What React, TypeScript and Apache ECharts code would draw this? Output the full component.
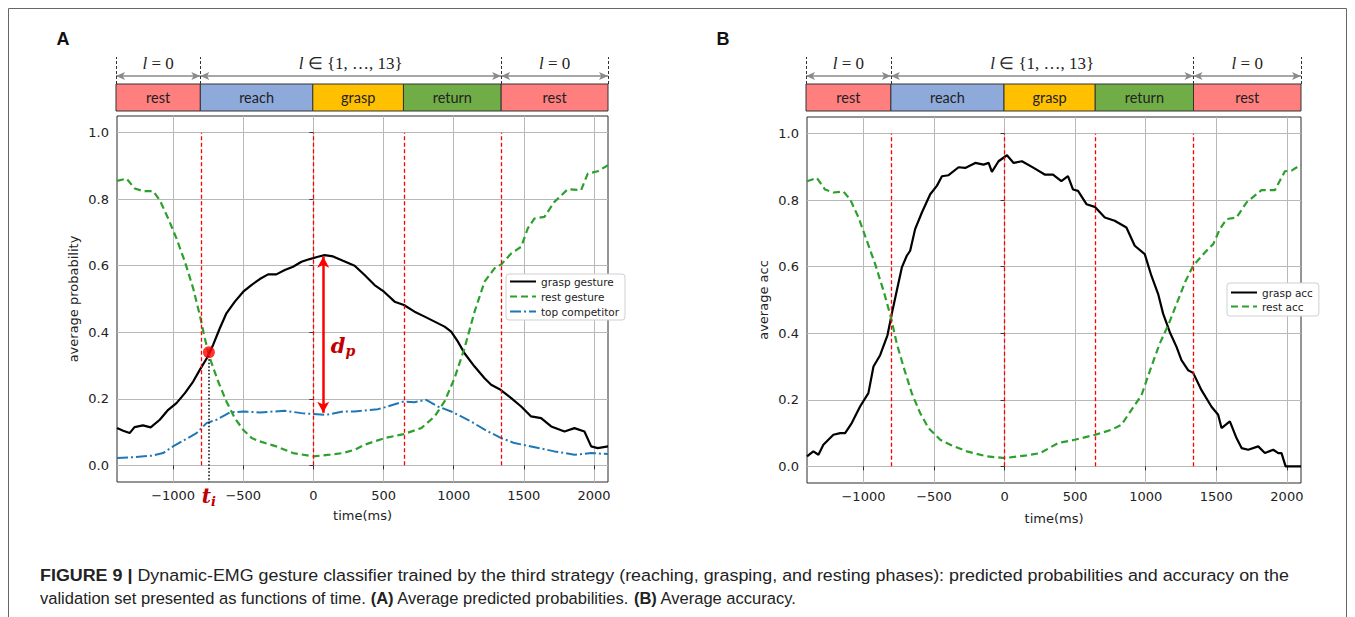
import React, { useEffect, useRef } from "react";
import * as echarts from "echarts";

// ---------- data ----------
const X_MIN = -1400;
const X_MAX = 2100;
const Y_MIN = -0.05;
const Y_MAX = 1.05;
const xTicks = [-1000, -500, 0, 500, 1000, 1500, 2000];
const yTicks = [0, 0.2, 0.4, 0.6, 0.8, 1.0];

const phaseNames = ["rest", "reach", "grasp", "return", "rest"];
const phaseColors = ["#ff7f7f", "#8eaadb", "#ffc000", "#70ad47", "#ff7f7f"];
const phaseBounds = [-1400, -800, 0, 645, 1340, 2100];
const phaseBoundaryTimes = [-800, 0, 645, 1340];
const bracketEdges = [-1400, -800, 1340, 2100];
const bracketSpans = [[-1400, -800], [-800, 1340], [1340, 2100]];
const bracketLabels = ["l = 0", "l \u2208 {1, \u2026, 13}", "l = 0"];

const graspGestureA = [
  [-1400, 0.112], [-1356, 0.104], [-1310, 0.097], [-1275, 0.115], [-1215, 0.12], [-1160, 0.114],
  [-1095, 0.137], [-1035, 0.167], [-976, 0.187], [-916, 0.217], [-857, 0.252], [-810, 0.287],
  [-760, 0.322], [-715, 0.362], [-667, 0.412], [-620, 0.457], [-560, 0.492], [-500, 0.522],
  [-442, 0.542], [-382, 0.56], [-323, 0.574], [-264, 0.574], [-204, 0.587], [-145, 0.597],
  [-85, 0.612], [-26, 0.62], [33, 0.627], [80, 0.632], [140, 0.628], [211, 0.615], [294, 0.6],
  [365, 0.572], [436, 0.542], [503, 0.522], [579, 0.492], [645, 0.482], [721, 0.462],
  [793, 0.447], [864, 0.432], [935, 0.417], [982, 0.402], [1030, 0.372], [1077, 0.337],
  [1149, 0.297], [1220, 0.262], [1267, 0.242], [1334, 0.227], [1410, 0.202], [1481, 0.177],
  [1552, 0.147], [1623, 0.142], [1695, 0.117], [1790, 0.102], [1861, 0.112], [1932, 0.102],
  [1980, 0.057], [2027, 0.052], [2100, 0.057],
];

const restGestureA = [
  [-1400, 0.855], [-1332, 0.862], [-1273, 0.832], [-1213, 0.824], [-1142, 0.824], [-1095, 0.797],
  [-1035, 0.742], [-976, 0.682], [-916, 0.612], [-857, 0.532], [-810, 0.452], [-774, 0.382],
  [-738, 0.322], [-679, 0.252], [-620, 0.192], [-560, 0.142], [-501, 0.107], [-440, 0.082],
  [-382, 0.072], [-264, 0.057], [-145, 0.037], [0, 0.027], [116, 0.032], [211, 0.037],
  [294, 0.047], [365, 0.062], [436, 0.072], [508, 0.082], [645, 0.094], [769, 0.112],
  [864, 0.147], [935, 0.192], [1006, 0.262], [1077, 0.352], [1149, 0.462], [1220, 0.552],
  [1291, 0.592], [1339, 0.604], [1410, 0.637], [1481, 0.657], [1528, 0.712], [1576, 0.742],
  [1647, 0.747], [1718, 0.792], [1813, 0.83], [1908, 0.827], [1956, 0.877], [2027, 0.884],
  [2100, 0.902],
];

const topCompetitorA = [
  [-1400, 0.022], [-1273, 0.025], [-1154, 0.029], [-1071, 0.037], [-1000, 0.057], [-916, 0.077],
  [-833, 0.097], [-762, 0.127], [-691, 0.137], [-596, 0.159], [-501, 0.162], [-382, 0.159],
  [-204, 0.164], [-85, 0.157], [0, 0.154], [93, 0.152], [211, 0.162], [294, 0.162],
  [460, 0.169], [531, 0.177], [645, 0.192], [721, 0.19], [804, 0.197], [887, 0.177],
  [982, 0.162], [1101, 0.137], [1244, 0.102], [1339, 0.082], [1433, 0.067], [1552, 0.057],
  [1718, 0.042], [1861, 0.032], [1980, 0.037], [2100, 0.034],
];

const graspAccB = [
  [-1400, 0.03], [-1355, 0.045], [-1319, 0.035], [-1284, 0.065], [-1213, 0.095], [-1165, 0.1],
  [-1130, 0.1], [-1083, 0.13], [-1024, 0.18], [-965, 0.22], [-929, 0.3], [-882, 0.334],
  [-830, 0.394], [-799, 0.459], [-764, 0.528], [-728, 0.598], [-693, 0.633], [-669, 0.648],
  [-634, 0.713], [-586, 0.763], [-527, 0.818], [-480, 0.843], [-444, 0.872], [-397, 0.875],
  [-326, 0.899], [-279, 0.897], [-208, 0.912], [-149, 0.907], [-113, 0.912], [-90, 0.885],
  [-43, 0.917], [17, 0.935], [64, 0.912], [123, 0.917], [206, 0.897], [284, 0.877],
  [343, 0.877], [402, 0.857], [449, 0.872], [485, 0.832], [520, 0.828], [580, 0.788],
  [639, 0.78], [710, 0.748], [780, 0.738], [863, 0.718], [922, 0.663], [993, 0.638],
  [1040, 0.573], [1088, 0.518], [1123, 0.459], [1170, 0.404], [1218, 0.359], [1253, 0.319],
  [1300, 0.289], [1336, 0.281], [1395, 0.229], [1466, 0.179], [1513, 0.155], [1537, 0.115],
  [1596, 0.135], [1643, 0.085], [1679, 0.055], [1726, 0.05], [1797, 0.06], [1844, 0.04],
  [1903, 0.05], [1939, 0.04], [1962, 0.04], [1991, 0.0], [2100, 0.0],
];

const restAccB = [
  [-1400, 0.857], [-1331, 0.867], [-1272, 0.832], [-1213, 0.823], [-1142, 0.826], [-1095, 0.803],
  [-1035, 0.748], [-976, 0.678], [-917, 0.608], [-858, 0.528], [-806, 0.449], [-764, 0.369],
  [-716, 0.299], [-657, 0.219], [-598, 0.16], [-539, 0.115], [-456, 0.08], [-385, 0.065],
  [-267, 0.045], [-125, 0.03], [0, 0.025], [158, 0.033], [253, 0.04], [379, 0.07],
  [497, 0.08], [643, 0.095], [757, 0.11], [828, 0.125], [899, 0.17], [970, 0.214],
  [1040, 0.3], [1100, 0.37], [1160, 0.425], [1220, 0.49], [1280, 0.555], [1336, 0.603],
  [1419, 0.643], [1478, 0.668], [1525, 0.713], [1572, 0.743], [1643, 0.748], [1714, 0.793],
  [1820, 0.83], [1915, 0.83], [1986, 0.887], [2033, 0.889], [2100, 0.907],
];

const tiPoint = [-745, 0.34];
const tiLineEnd = -0.0499;
const dpTime = 70;
const dpTop = 0.627;
const dpBottom = 0.158;
const dpLabelY = 0.36;

// ---------- styling helpers ----------
const SANS = "DejaVu Sans";
const SERIF = "Liberation Serif";
const CAPTION_FONT = '"Liberation Sans Narrow", "Liberation Sans", Arial, sans-serif';
const BOX_Y = 0.5;
const ARROW_Y = 0.648;

const fmtX = (v: number) => (v < 0 ? "\u2212" + Math.abs(v) : String(v));
const fmtY = (v: number) => v.toFixed(1);

function mainX(gridIndex: number, nameGap: number) {
  return {
    gridIndex, type: "value", min: X_MIN, max: X_MAX,
    name: "time(ms)", nameLocation: "middle", nameGap,
    nameTextStyle: { fontSize: 13, color: "#222", fontFamily: SANS },
    axisLine: { show: false },
    axisTick: { show: true, length: 4, customValues: xTicks, lineStyle: { color: "#333" } },
    axisLabel: { customValues: xTicks, formatter: fmtX, fontSize: 13, color: "#222", fontFamily: SANS, margin: 7 },
    splitLine: { show: true, lineStyle: { color: "#b8b8b8", width: 1 } },
  };
}
function mainY(gridIndex: number, name: string) {
  return {
    gridIndex, type: "value", min: Y_MIN, max: Y_MAX,
    name, nameLocation: "middle", nameGap: 37,
    nameTextStyle: { fontSize: 13, color: "#222", fontFamily: SANS },
    axisLine: { show: false },
    axisTick: { show: true, length: 4, customValues: yTicks, lineStyle: { color: "#333" } },
    axisLabel: { customValues: yTicks, formatter: fmtY, fontSize: 13, color: "#222", fontFamily: SANS, margin: 8 },
    splitLine: { show: true, lineStyle: { color: "#b8b8b8", width: 1 } },
  };
}
const barX = (gridIndex: number) => ({ gridIndex, type: "value", min: X_MIN, max: X_MAX, show: false });
const barY = (gridIndex: number) => ({ gridIndex, type: "value", min: 0, max: 1, show: false });

const phaseData = phaseNames.map((_, i) => [phaseBounds[i], phaseBounds[i + 1], i]);

function phaseSeries(axisIndex: number) {
  return {
    type: "custom", xAxisIndex: axisIndex, yAxisIndex: axisIndex, data: phaseData,
    encode: { x: [0, 1] }, clip: false, silent: true, z: 3,
    renderItem: (_p: any, api: any) => {
      const s = api.coord([api.value(0), BOX_Y]);
      const e = api.coord([api.value(1), 0]);
      const idx = api.value(2);
      return {
        type: "group",
        children: [
          { type: "rect", shape: { x: s[0], y: s[1], width: e[0] - s[0], height: e[1] - s[1] },
            style: { fill: phaseColors[idx], stroke: "#333", lineWidth: 1 } },
          { type: "text", style: { text: phaseNames[idx], x: (s[0] + e[0]) / 2, y: (s[1] + e[1]) / 2,
            align: "center", verticalAlign: "middle", fill: "#222", fontSize: 14.5, fontFamily: "Lato" } },
        ],
      };
    },
  };
}
function bracketSeries(axisIndex: number) {
  return {
    type: "line", xAxisIndex: axisIndex, yAxisIndex: axisIndex, data: [], silent: true,
    markLine: {
      silent: true, animation: false, symbol: ["arrow", "arrow"], symbolSize: [6, 9],
      lineStyle: { color: "#8a8a8a", width: 1.5, type: "solid" },
      label: {
        show: true, position: "insideMiddleTop", distance: 4,
        formatter: (p: any) => String(p.name).replace(/^l/, "{i|l}"),
        color: "#222", fontFamily: SERIF, fontSize: 17,
        rich: { i: { fontStyle: "italic", fontFamily: SERIF, fontSize: 17, color: "#222" } },
      },
      data: bracketSpans.map((s, i) => [
        { coord: [s[0], ARROW_Y], name: bracketLabels[i] },
        { coord: [s[1], ARROW_Y] },
      ]),
    },
  };
}
function edgeSeries(axisIndex: number) {
  return {
    type: "line", xAxisIndex: axisIndex, yAxisIndex: axisIndex, data: [], silent: true, z: 1,
    markLine: {
      silent: true, animation: false, symbol: "none",
      lineStyle: { color: "#333", width: 1, type: [3, 2] },
      label: { show: false },
      data: bracketEdges.map((x) => [{ coord: [x, BOX_Y] }, { coord: [x, 1] }]),
    },
  };
}
function boundarySeries(axisIndex: number) {
  return {
    type: "line", xAxisIndex: axisIndex, yAxisIndex: axisIndex, data: [], silent: true, z: 2,
    markLine: {
      silent: true, animation: false, symbol: "none",
      lineStyle: { color: "#ff0000", width: 1.3, type: [4, 2.5] },
      label: { show: false },
      data: phaseBoundaryTimes.map((x) => [{ coord: [x, 0] }, { coord: [x, 1] }]),
    },
  };
}
function curve(name: string, axisIndex: number, data: number[][], color: string, type: any, width: number) {
  return {
    name, type: "line", xAxisIndex: axisIndex, yAxisIndex: axisIndex, data, symbol: "none",
    lineStyle: { color, width, type }, itemStyle: { color }, z: 4,
  };
}

const legendBase = {
  orient: "vertical", itemWidth: 26, itemHeight: 12, selectedMode: false,
  itemStyle: { opacity: 0, borderWidth: 0 },
  textStyle: { fontSize: 10.5, color: "#222", fontFamily: SANS },
  backgroundColor: "#ffffff", borderColor: "#d0d0d0", borderWidth: 1, borderRadius: 3,
};

function measure(text: string, font: string) {
  const ctx = document.createElement("canvas").getContext("2d");
  if (!ctx) return text.length * 8;
  ctx.font = font;
  return ctx.measureText(text).width;
}

const cap1Bold = "FIGURE 9 |";
const cap1Rest = " Dynamic-EMG gesture classifier trained by the third strategy (reaching, grasping, and resting phases): predicted probabilities and accuracy on the";
const cap2Parts = [
  ["n", "validation set presented as functions of time. "],
  ["b", "(A)"],
  ["n", " Average predicted probabilities. "],
  ["b", "(B)"],
  ["n", " Average accuracy."],
];

export default function App() {
  const ref = useRef<HTMLDivElement>(null);
  useEffect(() => {
    if (!ref.current) return;
    const chart = echarts.init(ref.current, null, { renderer: "svg" });
    const fs = 17;
    const nf = `${fs}px ${CAPTION_FONT}`;
    const bf = `bold ${fs}px ${CAPTION_FONT}`;
    const w1 = measure(cap1Bold, bf) + measure(cap1Rest, nf);
    const w2 = cap2Parts.reduce((a, [k, t]) => a + measure(t, k === "b" ? bf : nf), 0);
    const s1 = 1250 / w1;
    const s2 = 757 / w2;
    const captionRich = {
      b: { fontWeight: "bold", fontSize: fs, fontFamily: CAPTION_FONT, fill: "#222" },
      n: { fontSize: fs, fontFamily: CAPTION_FONT, fill: "#222" },
    };

    const option: any = {
      animation: false,
      backgroundColor: "#ffffff",
      grid: [
        { left: 116, top: 57, width: 492, height: 54, show: false },
        { left: 117, top: 116, width: 491, height: 366, show: true, borderColor: "#2a2a2a", borderWidth: 1 },
        { left: 806, top: 57, width: 495, height: 54, show: false },
        { left: 807, top: 117, width: 494, height: 366, show: true, borderColor: "#2a2a2a", borderWidth: 1 },
      ],
      xAxis: [barX(0), mainX(1, 27), barX(2), mainX(3, 29)],
      yAxis: [barY(0), mainY(1, "average probability"), barY(2), mainY(3, "average acc")],
      legend: [
        { ...legendBase, data: ["grasp gesture", "rest gesture", "top competitor"], left: 506, top: 274, itemGap: 4, padding: [2, 6, 3, 3] },
        { ...legendBase, data: ["grasp acc", "rest acc"], left: 1227, top: 283, itemGap: 3, padding: [4, 6, 4, 3] },
      ],
      series: [
        phaseSeries(0), bracketSeries(0), edgeSeries(0),
        phaseSeries(2), bracketSeries(2), edgeSeries(2),
        boundarySeries(1), boundarySeries(3),
        curve("grasp gesture", 1, graspGestureA, "#000000", "solid", 2.2),
        curve("rest gesture", 1, restGestureA, "#2ca02c", [7, 4], 2.2),
        curve("top competitor", 1, topCompetitorA, "#1f77b4", [11, 3, 2, 3], 2),
        curve("grasp acc", 3, graspAccB, "#000000", "solid", 2.2),
        curve("rest acc", 3, restAccB, "#2ca02c", [7, 4], 2.2),
        {
          type: "line", xAxisIndex: 1, yAxisIndex: 1, data: [], silent: true, z: 5, clip: false,
          markLine: {
            silent: true, animation: false, symbol: "none",
            lineStyle: { color: "#000", width: 1.5, type: [1.5, 2] },
            label: {
              show: true, position: "end", distance: 3, formatter: "{t|t}{s|i}",
              rich: {
                t: { fontSize: 20, fontStyle: "italic", fontWeight: "bold", fontFamily: "DejaVu Serif", color: "#c00000" },
                s: { fontSize: 13, fontStyle: "italic", fontWeight: "bold", fontFamily: "DejaVu Serif", color: "#c00000", padding: [10, 0, 0, 0] },
              },
            },
            data: [[{ coord: [tiPoint[0], tiPoint[1]] }, { coord: [tiPoint[0], tiLineEnd] }]],
          },
        },
        {
          type: "scatter", xAxisIndex: 1, yAxisIndex: 1, data: [tiPoint], symbolSize: 12,
          itemStyle: { color: "#ff0000" }, z: 6, silent: true,
        },
        {
          type: "line", xAxisIndex: 1, yAxisIndex: 1, data: [], silent: true, z: 6, clip: false,
          markLine: {
            silent: true, animation: false, symbol: ["arrow", "arrow"], symbolSize: [9, 11],
            lineStyle: { color: "#ff0000", width: 2.5, type: "solid" },
            label: { show: false },
            data: [[{ coord: [dpTime, dpTop] }, { coord: [dpTime, dpBottom] }]],
          },
          markPoint: {
            silent: true, animation: false, symbol: "rect", symbolSize: 1,
            itemStyle: { color: "transparent" },
            label: {
              show: true, position: "right", distance: 7, formatter: "{d|d}{p|p}",
              rich: {
                d: { fontSize: 21, fontStyle: "italic", fontWeight: "bold", fontFamily: "DejaVu Serif", color: "#c00000" },
                p: { fontSize: 14, fontStyle: "italic", fontWeight: "bold", fontFamily: "DejaVu Serif", color: "#c00000", padding: [10, 0, 0, 0] },
              },
            },
            data: [{ coord: [dpTime, dpLabelY] }],
          },
        },
      ],
      graphic: [
        { type: "polyline", silent: true, shape: { points: [[8.5, 617], [8.5, 8.5], [1346.5, 8.5], [1346.5, 617]] },
          style: { stroke: "#666", lineWidth: 1, fill: null } },
        { type: "text", x: 63, y: 39, silent: true,
          style: { text: "A", fontSize: 18, fontWeight: "bold", fontFamily: "Liberation Sans", fill: "#111", align: "center", verticalAlign: "middle" } },
        { type: "text", x: 723, y: 39, silent: true,
          style: { text: "B", fontSize: 18, fontWeight: "bold", fontFamily: "Liberation Sans", fill: "#111", align: "center", verticalAlign: "middle" } },
        { type: "text", x: 40, y: 575, scaleX: s1, silent: true,
          style: { text: `{b|${cap1Bold}}{n|${cap1Rest}}`, rich: captionRich, fontSize: fs, fontFamily: CAPTION_FONT, fill: "#222", verticalAlign: "middle" } },
        { type: "text", x: 40, y: 598, scaleX: s2, silent: true,
          style: { text: cap2Parts.map(([k, t]) => `{${k}|${t}}`).join(""), rich: captionRich, fontSize: fs, fontFamily: CAPTION_FONT, fill: "#222", verticalAlign: "middle" } },
      ],
    };
    chart.setOption(option);
    return () => chart.dispose();
  }, []);
  return (
    <div
      ref={ref}
      style={{ position: "fixed", left: 0, top: 0, width: 1355, height: 617, background: "#fff" }}
    />
  );
}
